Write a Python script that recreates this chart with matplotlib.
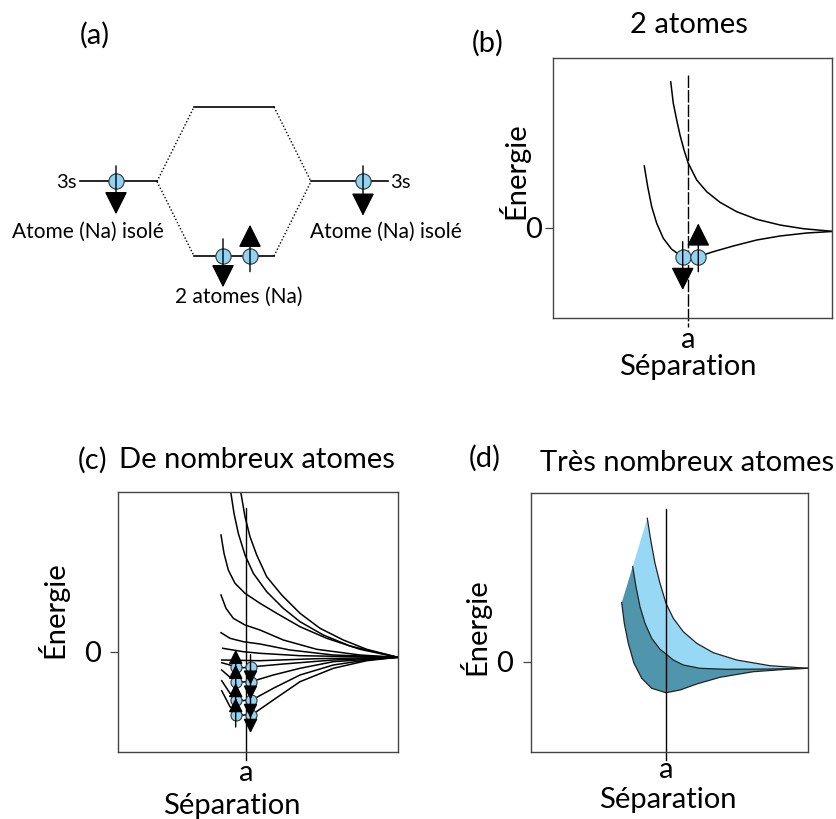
import matplotlib
matplotlib.use('Agg')
import matplotlib.pyplot as plt

# ---------------- data (arbitrary units) ----------------
# (a) energy levels
level_3s = 0.0
level_anti = 1.0
level_bond = -1.0

# (b) two atoms : energy vs separation
b_anti_x = [11.77, 12.03, 12.37, 12.7, 13.1, 13.53, 14.37, 15.37, 16.7, 18.37, 20.37, 22.7, 25.03, 27.9]
b_anti_y = [14.63, 12.47, 10.8, 9.3, 7.8, 6.47, 4.8, 3.63, 2.57, 1.63, 0.87, 0.3, -0.07, -0.33]
b_bond_x = [9.13, 9.47, 9.87, 10.37, 11.03, 11.87, 12.7, 13.53, 14.7, 16.03, 18.03, 20.37, 22.7, 25.37, 27.9]
b_bond_y = [6.2, 4.13, 2.13, 0.47, -1.03, -2.13, -2.7, -2.93, -2.8, -2.37, -1.8, -1.2, -0.8, -0.5, -0.35]
b_a = 13.53
b_elec_x = [12.97, 14.53]
b_elec_y = [-2.87, -2.87]
b_spin = [-1, 1]

# (c) many atoms : one curve per level
c_curves = [
    ([12.27, 12.7, 13.2, 13.87, 14.87, 16.37, 18.2, 20.2, 22.53, 24.87, 27.97],
     [16.03, 13.53, 11.53, 9.7, 7.53, 5.7, 3.87, 2.37, 1.2, 0.27, -0.53]),
    ([11.27, 11.6, 12.03, 12.7, 13.53, 14.87, 16.53, 18.2, 20.53, 23.2, 27.97],
     [16.03, 13.87, 11.87, 9.7, 7.87, 6.03, 4.37, 3.03, 1.7, 0.6, -0.53]),
    ([10.3, 10.6, 11.03, 11.7, 12.7, 14.2, 15.87, 18.2, 20.87, 24.2, 27.97],
     [11.7, 9.87, 8.2, 6.87, 5.87, 4.87, 3.87, 2.53, 1.37, 0.27, -0.53]),
    ([10.3, 10.8, 11.53, 12.7, 14.2, 16.53, 19.87, 24.2, 27.97],
     [5.7, 4.37, 3.37, 2.7, 2.2, 1.2, 0.27, -0.3, -0.53]),
    ([10.3, 11.2, 12.53, 14.2, 17.2, 21.53, 27.97],
     [1.93, 1.37, 1.03, 0.8, 0.2, -0.3, -0.53]),
    ([10.47, 12.53, 14.2, 18.2, 27.97],
     [0.37, 0.03, -0.13, -0.37, -0.53]),
    ([10.37, 14.2, 19.87, 27.97],
     [-0.8, -0.87, -0.67, -0.53]),
    ([10.37, 11.53, 12.53, 13.53, 16.53, 21.53, 27.97],
     [-1.07, -1.4, -1.57, -1.47, -1.2, -0.8, -0.53]),
    ([10.37, 11.2, 12.53, 13.53, 15.53, 18.2, 21.53, 27.97],
     [-1.8, -2.53, -3.0, -2.9, -2.3, -1.63, -0.97, -0.53]),
    ([10.37, 11.2, 12.53, 13.7, 15.53, 18.2, 21.53, 24.87, 27.97],
     [-2.87, -4.13, -4.87, -4.63, -3.63, -2.3, -1.3, -0.8, -0.53]),
    ([10.37, 11.2, 12.53, 13.7, 15.53, 18.2, 21.53, 24.87, 27.97],
     [-3.87, -5.47, -6.33, -6.07, -4.8, -2.97, -1.63, -0.87, -0.53]),
]
c_a = 12.8
c_elec_levels = [-1.47, -2.97, -4.8, -6.3]
c_elec_x_up = 11.77
c_elec_x_down = 13.25

# (d) very many atoms : band edges
d_top_x = [11.63, 11.97, 12.4, 12.9, 13.5, 14.23, 15.23, 16.57, 18.23, 20.57, 23.9, 27.73]
d_top_y = [14.37, 12.2, 9.87, 7.87, 5.87, 4.37, 3.03, 1.87, 0.93, 0.2, -0.37, -0.63]
d_mid_x = [10.17, 10.5, 10.9, 11.4, 12.07, 12.9, 13.5, 14.23, 15.23, 16.9, 19.57, 23.9, 27.73]
d_mid_y = [9.53, 7.53, 5.53, 3.87, 2.37, 1.27, 0.8, 0.2, -0.3, -0.63, -0.73, -0.7, -0.63]
d_bot_x = [9.07, 9.33, 9.73, 10.3, 11.07, 12.07, 13.5, 14.9, 16.57, 18.9, 22.23, 25.57, 27.73]
d_bot_y = [5.93, 3.87, 1.87, -0.13, -1.63, -2.63, -3.07, -2.8, -2.2, -1.53, -0.97, -0.73, -0.63]
d_a = 13.5

# ---------------- figure ----------------
W, H = 836, 819
plt.rcParams['font.family'] = ['Lato', 'DejaVu Sans']
fig = plt.figure(figsize=(W / 100, H / 100), dpi=100)

ELEC = '#8fd4f2'
LIGHT = '#97d9f4'
DARK = '#4f95ac'
SPINE = '#444444'
FS = 21


def fx(px):
    return px / W


def fy(py):
    return 1 - py / H


def box(x0, y0, x1, y1):
    return [fx(x0), fy(y1), (x1 - x0) / W, (y1 - y0) / H]


def electron(ax, x, y, s, tail, tip, ms, head_px, lw=1.0):
    ax.plot([x], [y], 'o', ms=ms, mfc=ELEC, mec='#333333', mew=0.8, zorder=5, clip_on=False)
    hl = head_px * 0.72
    ax.annotate('', xy=(x, y + s * tip), xytext=(x, y - s * tail),
                arrowprops=dict(arrowstyle=f'-|>,head_length={hl},head_width={hl * 0.5}',
                                color='k', lw=lw, shrinkA=0, shrinkB=0, mutation_scale=1),
                annotation_clip=False, zorder=6)


def frame(ax, xlim, ylim, a, lab_pos, ylab_pos, zero_pad):
    ax.set_xlim(*xlim)
    ax.set_ylim(*ylim)
    for sp in ax.spines.values():
        sp.set_color(SPINE)
        sp.set_linewidth(1.0)
    ax.set_xticks([])
    ax.set_yticks([0])
    ax.set_yticklabels(['0'], fontsize=FS)
    ax.tick_params(axis='y', length=6, width=0.9, color=SPINE, pad=zero_pad)
    tr = ax.get_xaxis_transform()
    ax.text(a, lab_pos[0], 'a', transform=tr, ha='center', va='center', fontsize=FS)
    ax.text(lab_pos[1], lab_pos[2], 'Séparation', transform=tr, ha='center', va='center', fontsize=FS)
    ax.text(ylab_pos[0], ylab_pos[1], 'Énergie', transform=ax.transAxes, rotation=90,
            ha='center', va='center', fontsize=FS)


# ---------- (a) level diagram ----------
ax_a = fig.add_axes(box(0, 80.9, 470, 330.5))
ax_a.set_xlim(0, 470)
ax_a.set_ylim(-2.0, 1.35)
ax_a.axis('off')
ax_a.plot([80, 157], [level_3s, level_3s], color='k', lw=1.2)
ax_a.plot([311, 388], [level_3s, level_3s], color='k', lw=1.2)
ax_a.plot([194, 274], [level_anti, level_anti], color='k', lw=1.2)
ax_a.plot([194, 274], [level_bond, level_bond], color='k', lw=1.2)
for x0, x1, e0, e1 in [(157, 194, level_3s, level_anti), (157, 194, level_3s, level_bond),
                       (274, 311, level_anti, level_3s), (274, 311, level_bond, level_3s)]:
    ax_a.plot([x0, x1], [e0, e1], color='k', lw=1.0, ls=(0, (1, 1.5)))
electron(ax_a, 116, level_3s, -1, 0.21, 0.44, 11, 20)
electron(ax_a, 363, level_3s, -1, 0.21, 0.46, 11, 20)
electron(ax_a, 223, level_bond, -1, 0.23, 0.42, 11, 20)
electron(ax_a, 250, level_bond, 1, 0.21, 0.42, 11, 20)

fig.text(fx(66), fy(182), '3s', ha='center', va='center', fontsize=14.5)
fig.text(fx(400), fy(182), '3s', ha='center', va='center', fontsize=14.5)
fig.text(fx(88), fy(232), 'Atome (Na) isolé', ha='center', va='center', fontsize=15)
fig.text(fx(386), fy(232), 'Atome (Na) isolé', ha='center', va='center', fontsize=15)
fig.text(fx(239), fy(297), '2 atomes (Na)', ha='center', va='center', fontsize=15)
fig.text(fx(95), fy(35), '(a)', ha='center', va='center', fontsize=FS)

# ---------- (b) two atoms ----------
ax_b = fig.add_axes(box(553, 58, 832, 318))
frame(ax_b, (0, 27.9), (-9.0, 17.0), b_a, (-0.085, 13.5, -0.19), (-0.143, 0.565), 2)
ax_b.plot(b_anti_x, b_anti_y, color='k', lw=1.1)
ax_b.plot(b_bond_x, b_bond_y, color='k', lw=1.1)
ax_b.plot([b_a, b_a], [15.3, -9.9], color='k', lw=1.0, ls=(0, (9, 1.5)), clip_on=False)
for x, y, s in zip(b_elec_x, b_elec_y, b_spin):
    electron(ax_b, x, y, s, 1.5, 3.33, 11, 20)
fig.text(fx(488), fy(43), '(b)', ha='center', va='center', fontsize=FS)
fig.text(fx(689), fy(25), '2 atomes', ha='center', va='center', fontsize=FS)

# ---------- (c) many atoms ----------
ax_c = fig.add_axes(box(118, 492, 398, 752))
frame(ax_c, (0, 28.0), (-10.0, 16.0), c_a, (-0.081, 11.4, -0.208), (-0.236, 0.546), 6)
for cx, cy in c_curves:
    ax_c.plot(cx, cy, color='k', lw=1.1)
ax_c.plot([c_a, c_a], [14.4, -10.8], color='k', lw=1.0, clip_on=False)
for e in c_elec_levels:
    electron(ax_c, c_elec_x_up, e, 1, 1.2, 1.7, 8, 12)
    electron(ax_c, c_elec_x_down, e, -1, 1.2, 1.8, 8, 12)
fig.text(fx(93), fy(460), '(c)', ha='center', va='center', fontsize=FS)
fig.text(fx(257), fy(460), 'De nombreux atomes', ha='center', va='center', fontsize=FS)

# ---------- (d) very many atoms ----------
ax_d = fig.add_axes(box(531, 493.3, 808.3, 751.7))
frame(ax_d, (0, 27.73), (-8.97, 16.87), d_a, (-0.071, 13.7, -0.187), (-0.205, 0.483), 7)
ax_d.fill(d_top_x + d_mid_x[::-1], d_top_y + d_mid_y[::-1], color=LIGHT, lw=0)
ax_d.fill(d_mid_x + d_bot_x[::-1], d_mid_y + d_bot_y[::-1], color=DARK, lw=0)
for xs, ys in [(d_top_x, d_top_y), (d_mid_x, d_mid_y), (d_bot_x, d_bot_y)]:
    ax_d.plot(xs, ys, color='#222222', lw=0.9)
ax_d.plot([d_a, d_a], [15.27, -9.8], color='k', lw=1.0, clip_on=False)
fig.text(fx(485), fy(458), '(d)', ha='center', va='center', fontsize=FS)
fig.text(fx(687), fy(463), 'Très nombreux atomes', ha='center', va='center', fontsize=FS)

fig.savefig('out.png', dpi=100)
